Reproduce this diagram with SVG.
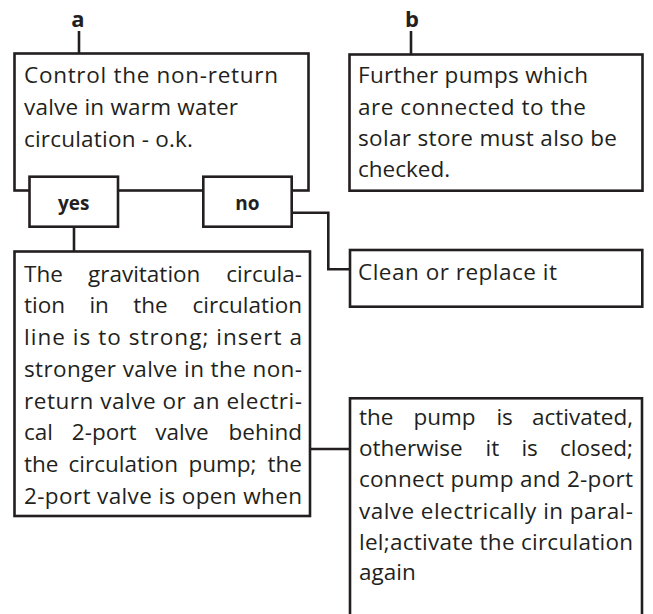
<svg xmlns="http://www.w3.org/2000/svg" width="653" height="614" viewBox="0 0 653 614">
<style>
.box{fill:#fff;stroke:#231f20;stroke-width:2.6}
.ln{fill:none;stroke:#231f20;stroke-width:2.6}
.t{font-family:"Open Sans","DejaVu Sans",sans-serif;font-size:22.5px;fill:#231f20}
.lb{font-family:"Open Sans","DejaVu Sans",sans-serif;font-size:19px;font-weight:bold;fill:#231f20;text-anchor:middle}
.hd{font-size:22px}
.e{text-anchor:end}
</style>
<rect width="653" height="614" fill="#fff"/>
<g id="connectors">
<path class="ln" d="M79,31 V53.5"/>
<path class="ln" d="M411,31 V54.5"/>
<path class="ln" d="M74,226.7 V251.5"/>
<path class="ln" d="M291.7,212.7 H328.3 V269.3 H350"/>
<path class="ln" d="M310,449 H350"/>
</g>
<g id="label-a"><text class="lb hd" x="78" y="27">a</text></g>
<g id="label-b"><text class="lb hd" x="412" y="27">b</text></g>
<g id="node-control">
<rect class="box" x="14.5" y="53.5" width="294" height="137"/>
<text class="t" x="24" y="83.3" textLength="254" lengthAdjust="spacing">Control the non-return</text>
<text class="t" x="24" y="115" textLength="214" lengthAdjust="spacing">valve in warm water</text>
<text class="t" x="24" y="146.7" textLength="169" lengthAdjust="spacing">circulation - o.k.</text>
</g>
<g id="node-yes">
<rect class="box" x="29.5" y="176.7" width="88.5" height="50"/>
<text class="lb" x="73.7" y="210">yes</text>
</g>
<g id="node-no">
<rect class="box" x="203.3" y="176.7" width="88.4" height="50"/>
<text class="lb" x="247.5" y="210">no</text>
</g>
<g id="node-further">
<rect class="box" x="349.5" y="54.5" width="293" height="136.2"/>
<text class="t" x="358" y="83.3" textLength="230" lengthAdjust="spacing">Further pumps which</text>
<text class="t" x="358" y="114.8" textLength="228" lengthAdjust="spacing">are connected to the</text>
<text class="t" x="358" y="146.3" textLength="259" lengthAdjust="spacing">solar store must also be</text>
<text class="t" x="358" y="177">checked.</text>
</g>
<g id="node-clean">
<rect class="box" x="350" y="250" width="292.3" height="56.7"/>
<text class="t" x="358" y="280" textLength="199" lengthAdjust="spacing">Clean or replace it</text>
</g>
<g id="node-gravitation">
<rect class="box" x="14.5" y="251.5" width="295.5" height="264.5"/>
<text class="t" y="281.7"><tspan x="24">The</tspan><tspan x="88">gravitation</tspan><tspan x="302" class="e">circula-</tspan></text>
<text class="t" y="313.4"><tspan x="24">tion</tspan><tspan x="89.4">in</tspan><tspan x="133.3">the</tspan><tspan x="302" class="e">circulation</tspan></text>
<text class="t" x="24" y="345.1" textLength="278" lengthAdjust="spacing">line is to strong; insert a</text>
<text class="t" x="24" y="376.8" textLength="278" lengthAdjust="spacing">stronger valve in the non-</text>
<text class="t" x="24" y="408.5" textLength="278" lengthAdjust="spacing">return valve or an electri-</text>
<text class="t" y="440.2"><tspan x="24">cal</tspan><tspan x="71.8">2-port</tspan><tspan x="155.3">valve</tspan><tspan x="302" class="e">behind</tspan></text>
<text class="t" y="471.9"><tspan x="24">the</tspan><tspan x="68.5">circulation</tspan><tspan x="188.4">pump;</tspan><tspan x="302" class="e">the</tspan></text>
<text class="t" x="24" y="503.6" textLength="278" lengthAdjust="spacing">2-port valve is open when</text>
</g>
<g id="node-continuation">
<rect class="box" x="350" y="398.3" width="292" height="240"/>
<text class="t" y="425"><tspan x="359">the</tspan><tspan x="413.4">pump</tspan><tspan x="496.4">is</tspan><tspan x="633" class="e">activated,</tspan></text>
<text class="t" y="456"><tspan x="359">otherwise</tspan><tspan x="485.6">it</tspan><tspan x="521.4">is</tspan><tspan x="633" class="e">closed;</tspan></text>
<text class="t" x="359" y="487.3" textLength="274" lengthAdjust="spacing">connect pump and 2-port</text>
<text class="t" x="359" y="518.5" textLength="274" lengthAdjust="spacing">valve electrically in paral-</text>
<text class="t" x="359" y="549.5" textLength="274" lengthAdjust="spacing">lel;activate the circulation</text>
<text class="t" x="359" y="580">again</text>
</g>
</svg>
